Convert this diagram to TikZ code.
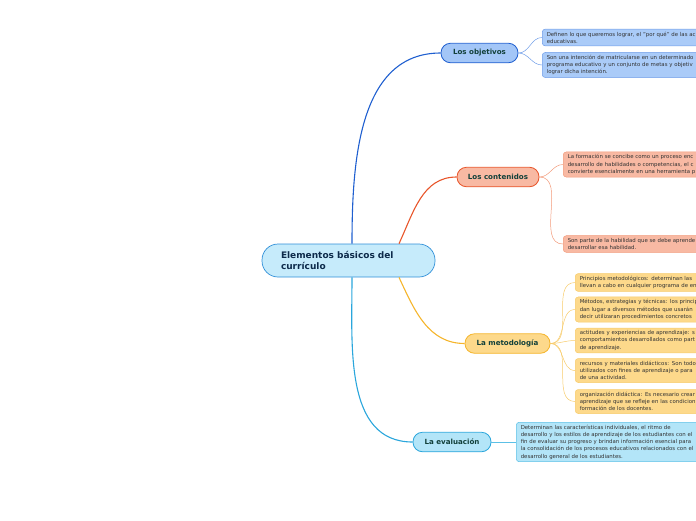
\documentclass[tikz,border=0pt]{standalone}
\usepackage{fontspec}
\setmainfont{DejaVu Sans}
\usetikzlibrary{positioning}

\definecolor{raizfill}{HTML}{C6EBFB}
\definecolor{raizline}{HTML}{2F8FD8}
\definecolor{raiztext}{HTML}{0D2A4A}
\definecolor{ramatext}{HTML}{12403A}
\definecolor{hojatext}{HTML}{333333}
\definecolor{objfill}{HTML}{A3C6F7}
\definecolor{objline}{HTML}{1F5FD0}
\definecolor{objhoja}{HTML}{6F9DE8}
\definecolor{confill}{HTML}{F8B9A3}
\definecolor{conline}{HTML}{E8552A}
\definecolor{conhoja}{HTML}{F29A7A}
\definecolor{metfill}{HTML}{FDD98B}
\definecolor{metline}{HTML}{F5B52C}
\definecolor{methoja}{HTML}{F7CB6A}
\definecolor{evafill}{HTML}{B3E5F8}
\definecolor{evaline}{HTML}{2AA6DC}
\definecolor{evahoja}{HTML}{5CC0E6}

\tikzset{
  raiz/.style={draw=raizline, fill=raizfill, line width=0.7pt, rounded corners=16pt,
    minimum width=173pt, minimum height=33pt, text width=135pt, inner xsep=19pt,
    align=left, text=raiztext, font=\fontsize{9}{11}\selectfont\bfseries},
  rama/.style={line width=0.8pt, rounded corners=9.5pt, minimum height=19.5pt,
    inner sep=0pt, text=ramatext, font=\fontsize{7.1}{8}\selectfont\bfseries},
  hoja/.style={line width=0.5pt, rounded corners=3pt, anchor=west, align=left,
    text width=190pt, inner xsep=4.5pt, inner ysep=2.6pt, text=hojatext,
    font=\fontsize{5.4}{7.2}\selectfont},
  tallo/.style={line width=1.1pt},
  ramita/.style={line width=0.5pt}
}

\begin{document}
\begin{tikzpicture}[x=1pt, y=-1pt]
    \useasboundingbox (0,0) rectangle (696,520);
    \clip (0,0) rectangle (696,520);

    % Knoten
    \node[raiz] (main) at (348.5,260.5) {Elementos básicos del\\currículo};

    \node[rama, draw=objline, fill=objfill, minimum width=77pt] (obj) at (479.5,53) {Los objetivos};
    \node[rama, draw=conline, fill=confill, minimum width=82pt] (con) at (498,177) {Los contenidos};
    \node[rama, draw=metline, fill=metfill, minimum width=85pt] (met) at (507.5,343.5) {La metodología};
    \node[rama, draw=evaline, fill=evafill, minimum width=78pt] (eva) at (452,442) {La evaluación};

    % Blätter
    \node[hoja, draw=objhoja, fill=objfill!92!white] (obj1) at (542,37.5)
      {Definen lo que queremos lograr, el "por qué" de las ac\\educativas.};
    \node[hoja, draw=objhoja, fill=objfill!92!white] (obj2) at (542,65)
      {Son una intención de matricularse en un determinado\\programa educativo y un conjunto de metas y objetiv\\lograr dicha intención.};

    \node[hoja, draw=conhoja, fill=confill] (con1) at (563,164.5)
      {La formación se concibe como un proceso enc\\desarrollo de habilidades o competencias, el c\\convierte esencialmente en una herramienta p};
    \node[hoja, draw=conhoja, fill=confill] (con2) at (563,244)
      {Son parte de la habilidad que se debe aprende\\desarrollar esa habilidad.};

    \node[hoja, draw=methoja, fill=metfill] (met1) at (575,282.5)
      {Principios metodológicos: determinan las\\llevan a cabo en cualquier programa de en};
    \node[hoja, draw=methoja, fill=metfill] (met2) at (575,309.5)
      {Métodos, estrategias y técnicas: los princip\\dan lugar a diversos métodos que usarán\\decir utilizaran procedimientos concretos};
    \node[hoja, draw=methoja, fill=metfill] (met3) at (575,340.5)
      {actitudes y experiencias de aprendizaje: s\\comportamientos desarrollados como part\\de aprendizaje.};
    \node[hoja, draw=methoja, fill=metfill] (met4) at (575,370.5)
      {recursos y materiales didácticos: Son todo\\utilizados con fines de aprendizaje o para\\de una actividad.};
    \node[hoja, draw=methoja, fill=metfill] (met5) at (575,401.5)
      {organización didáctica: Es necesario crear\\aprendizaje que se refleje en las condicion\\formación de los docentes.};

    \node[hoja, draw=evahoja, fill=evafill, text width=200pt] (eva1) at (516,442)
      {Determinan las características individuales, el ritmo de\\desarrollo y los estilos de aprendizaje de los estudiantes con el\\fin de evaluar su progreso y brindan información esencial para\\la consolidación de los procesos educativos relacionados con el\\desarrollo general de los estudiantes.};

    % Äste
    \draw[tallo, objline] ([xshift=3.5pt]main.north) to[out=90, in=180] (obj.west);
    \draw[tallo, conline] ([xshift=50.5pt]main.north) to[out=65, in=180] (con.west);
    \draw[tallo, metline] ([xshift=50.5pt]main.south) to[out=-65, in=180] (met.west);
    \draw[tallo, evaline] ([xshift=3.5pt]main.south) to[out=-90, in=180] (eva.west);

    % Zweige
    \draw[ramita, objhoja] (obj.east) to[out=0, in=180] (obj1.west);
    \draw[ramita, objhoja] (obj.east) to[out=0, in=180] (obj2.west);
    \draw[ramita, conhoja] (con.east) to[out=0, in=180] (con1.west);
    \draw[ramita, conhoja] (con.east) to[out=0, in=180] (con2.west);
    \foreach \h in {met1,met2,met3,met4,met5}
      \draw[ramita, methoja] (met.east) to[out=0, in=180] (\h.west);
    \draw[ramita, evahoja] (eva.east) to (eva1.west);
\end{tikzpicture}
\end{document}
